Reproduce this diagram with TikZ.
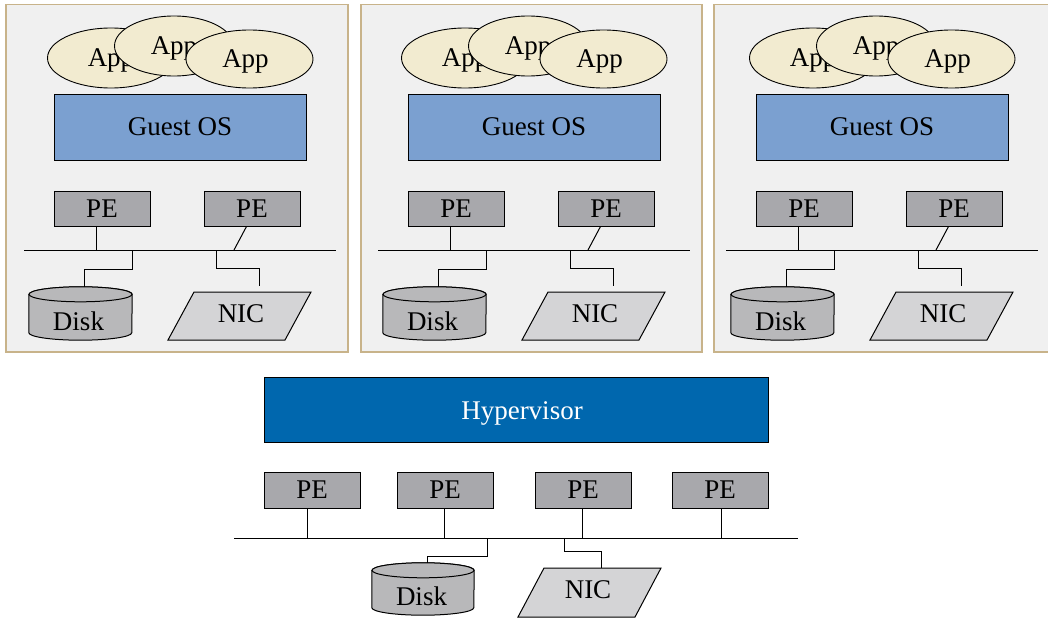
\documentclass[tikz,border=0pt]{standalone}
\usepackage{fontspec}
\setmainfont{Liberation Serif}
\usetikzlibrary{shapes.geometric,calc}
\definecolor{panelfill}{HTML}{F0F0F0}
\definecolor{panelline}{HTML}{C8B38A}
\definecolor{appfill}{HTML}{F2EBD0}
\definecolor{osfill}{HTML}{7BA0D0}
\definecolor{pefill}{HTML}{A8A8AC}
\definecolor{diskfill}{HTML}{B8B8BA}
\definecolor{nicfill}{HTML}{D4D4D6}
\definecolor{hypfill}{HTML}{0067AE}
\begin{document}
\begin{tikzpicture}[x=1pt,y=-1pt,
  every node/.style={font=\fontsize{27}{31}\selectfont, text height=17.5pt, text depth=0pt, inner sep=0pt},
  panel/.style={draw=panelline, fill=panelfill, line width=1.5pt},
  app/.style={ellipse, draw=black, fill=appfill, line width=0.9pt},
  osbox/.style={draw=black, fill=osfill, line width=1pt, minimum width=252pt, minimum height=66pt},
  pebox/.style={draw=black, fill=pefill, line width=1pt, minimum width=96pt, minimum height=35pt},
  hypbox/.style={draw=black, fill=hypfill, line width=1pt, minimum width=504pt, minimum height=65pt},
  wire/.style={line width=1pt, draw=black},
  cyl/.style={draw=black, fill=diskfill, line width=1pt},
  nicshape/.style={draw=black, fill=nicfill, line width=1pt},
  geom/.style={draw=none, fill=none, text height=0pt}
]
\useasboundingbox (0,0) rectangle (1048,618);
\clip (0,0) rectangle (1048,618);
\fill[white] (0,0) rectangle (1048,618);

% panels
\draw[panel] (6,4.5) rectangle (348,352);
\draw[panel] (361,4.5) rectangle (702,352);
\draw[panel] (714,4.5) rectangle (1060,352);

\foreach \i/\dx in {1/0,2/354,3/702}{
\begin{scope}[xshift=\dx pt]
  \node[app, minimum width=127pt, minimum height=60pt] (a1-\i) at (111,58) {App};
  \node[app, minimum width=119pt, minimum height=60pt] (a2-\i) at (174,46) {App};
  \node[app, minimum width=127pt, minimum height=58pt] (a3-\i) at (249.5,59) {};
  \node (a3t-\i) at (245.5,59) {App};
  \node[osbox] (os-\i) at (180,127) {Guest OS};
  \node[pebox] (pea-\i) at (102,208.5) {PE};
  \node[pebox] (peb-\i) at (252,208.5) {PE};
  \coordinate (busl-\i) at (24,250);
  \coordinate (busr-\i) at (336,250);
  \coordinate (tapb-\i) at (234,250);
  \coordinate (tapd-\i) at (132.5,250);
  \coordinate (tapn-\i) at (216.5,250);
  \coordinate (nicend-\i) at (259,286);
  \draw[wire] (busl-\i) -- (busr-\i);
  \draw[wire] ([xshift=-5.5pt]pea-\i.south) -- ([xshift=-5.5pt]pea-\i.south |- busl-\i);
  \draw[wire] ([xshift=-5.5pt]peb-\i.south) -- (tapb-\i);
  % disk
  \node[geom, minimum width=103pt, minimum height=53pt] (dk-\i) at (80.5,313.5) {};
  \draw[cyl] ([yshift=-7.5pt]dk-\i.north west) -- ([yshift=7.5pt]dk-\i.south west)
     arc[start angle=180, end angle=360, x radius=51.5pt, y radius=7.5pt]
     -- ([yshift=-7.5pt]dk-\i.north east)
     arc[start angle=0, end angle=180, x radius=51.5pt, y radius=7.5pt] -- cycle;
  \draw[cyl] ([yshift=-7.5pt]dk-\i.north) ellipse[x radius=51.5pt, y radius=7.5pt];
  \node (dkt-\i) at (78.5,321.5) {Disk};
  \draw[wire] (tapd-\i) -- ++(0,19) -| ([xshift=3.5pt]dk-\i.north);
  % nic
  \draw[nicshape] (194,292) -- (311,292) -- (285,340) -- (168,340) -- cycle;
  \node (nic-\i) at (241,314) {NIC};
  \draw[wire] (tapn-\i) -- ++(0,18) -| (nicend-\i);
\end{scope}
}

% host
\node[hypbox] (hyp) at (516,409.5) {};
\node[text=white] (hypt) at (522,410.5) {Hypervisor};
\node[pebox, minimum height=36pt] (hpe1) at (312,490) {PE};
\node[pebox, minimum height=36pt] (hpe2) at (445,490) {PE};
\node[pebox, minimum height=36pt] (hpe3) at (583,490) {PE};
\node[pebox, minimum height=36pt] (hpe4) at (720,490) {PE};
\coordinate (hbusl) at (234,538);
\coordinate (hbusr) at (798,538);
\draw[wire] (hbusl) -- (hbusr);
\draw[wire] ([xshift=-5pt]hpe1.south) -- ([xshift=-5pt]hpe1.south |- hbusl);
\draw[wire] ([xshift=-1pt]hpe2.south) -- ([xshift=-1pt]hpe2.south |- hbusl);
\draw[wire] ([xshift=-1pt]hpe3.south) -- ([xshift=-1pt]hpe3.south |- hbusl);
\draw[wire] ([xshift=1pt]hpe4.south) -- ([xshift=1pt]hpe4.south |- hbusl);
\coordinate (htapd) at (487,538);
\coordinate (htapn) at (564,538);
\node[geom, minimum width=102pt, minimum height=52pt] (hdk) at (423,589) {};
\draw[cyl] ([yshift=-7.5pt]hdk.north west) -- ([yshift=7.5pt]hdk.south west)
   arc[start angle=180, end angle=360, x radius=51pt, y radius=7.5pt]
   -- ([yshift=-7.5pt]hdk.north east)
   arc[start angle=0, end angle=180, x radius=51pt, y radius=7.5pt] -- cycle;
\draw[cyl] ([yshift=-7.5pt]hdk.north) ellipse[x radius=51pt, y radius=7.5pt];
\node (hdkt) at (421.5,596.5) {Disk};
\draw[wire] (htapd) -- ++(0,18) -| ([xshift=4pt]hdk.north);
\draw[nicshape] (544,568) -- (661,568) -- (635,617) -- (518,617) -- cycle;
\node (hnic) at (588,590) {NIC};
\coordinate (hnicend) at (601,568);
\draw[wire] (htapn) -- ++(0,13) -| (hnicend);
\end{tikzpicture}
\end{document}
